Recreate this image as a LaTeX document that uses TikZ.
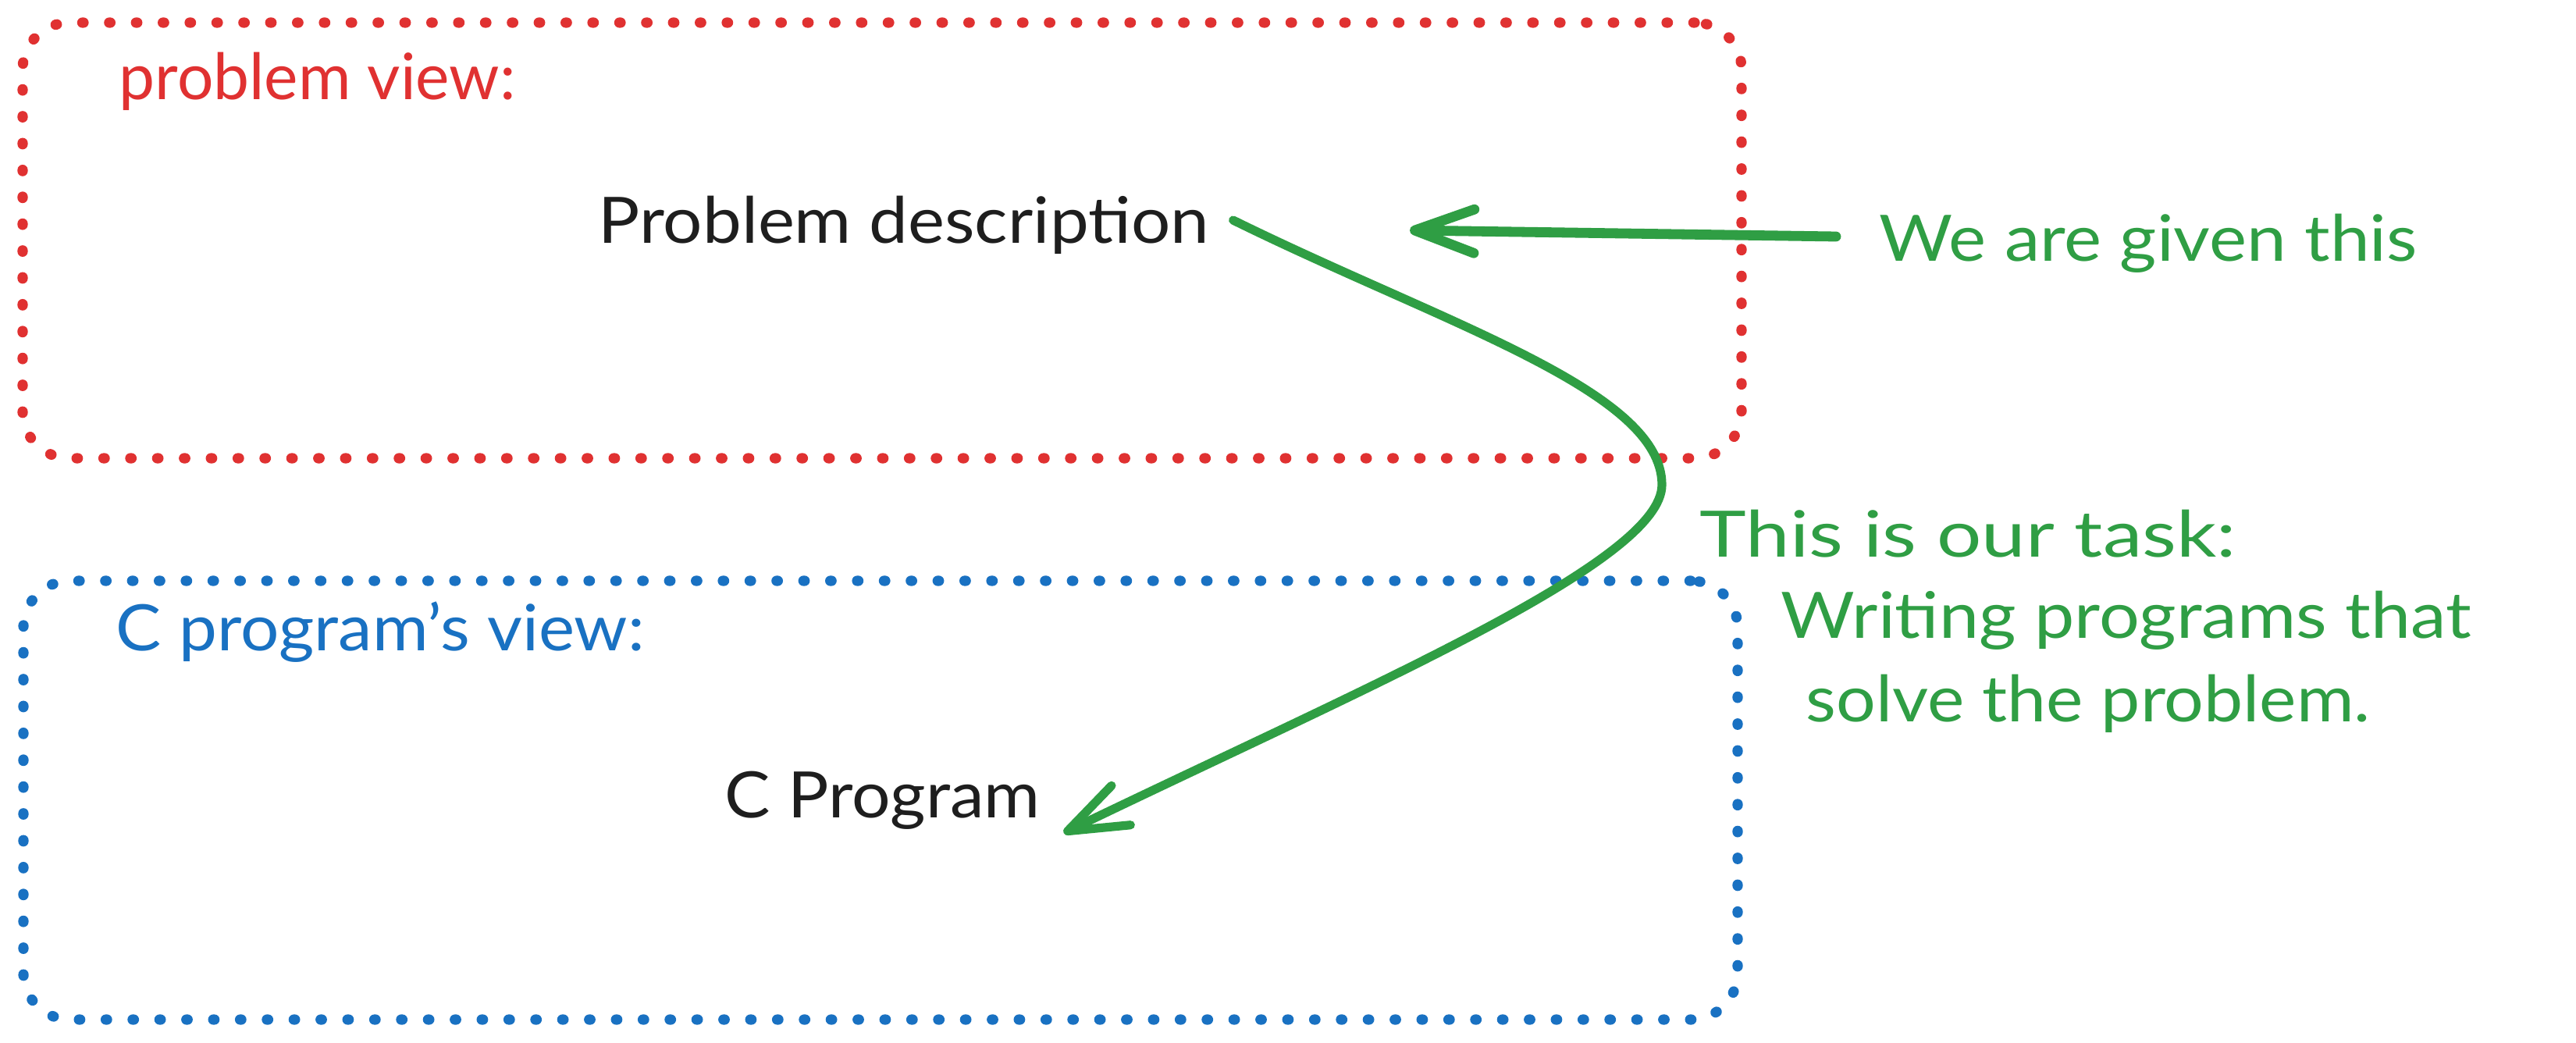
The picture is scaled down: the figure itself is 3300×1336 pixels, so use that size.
\documentclass[tikz,border=0pt]{standalone}
\usepackage{fontspec}
\setmainfont{Lato}
\usetikzlibrary{arrows.meta,calc}
\definecolor{exred}{HTML}{E03131}
\definecolor{exblue}{HTML}{1971C2}
\definecolor{exgreen}{HTML}{2F9E44}
\definecolor{exink}{HTML}{1E1E1E}
% same font size everywhere, stretched horizontally to the reference widths
\newcommand{\fitw}[2]{\resizebox{#1}{\height}{#2}}
\tikzset{
  dotbox/.style={draw, line width=3.3pt, dash pattern=on 0.4pt off 8.2pt, line cap=round, rounded corners=15pt, inner sep=0pt, fill=none},
  lbl/.style={inner sep=0pt, anchor=base west, font=\fontsize{20.5pt}{24pt}\selectfont},
  garrow/.style={draw=exgreen, line cap=round, line join=round, -{Straight Barb[length=19pt, width=14pt, line cap=round, line join=round]}}
}
\begin{document}
\begin{tikzpicture}[x=0.25pt, y=-0.25pt]
\useasboundingbox[fill=white] (0,0) rectangle (3300,1336);
% frames
\node[dotbox, draw=exred, minimum width=550.5pt, minimum height=139.5pt] (rbox) at (1130,308) {};
\node[dotbox, draw=exblue, minimum width=549pt, minimum height=140.5pt] (bbox) at (1128,1025) {};
% labels
\node[lbl, text=exred] (pv) at (152,128) {\fitw{127pt}{problem view:}};
\node[lbl, text=exink] (pd) at (766,312) {\fitw{195.5pt}{Problem description}};
\node[lbl, text=exblue] (cv) at (148,834) {\fitw{169.25pt}{C program's view:}};
\node[lbl, text=exink] (cp) at (928,1047) {\fitw{101pt}{C Program}};
\node[lbl, text=exgreen] (given) at (2407,335) {\fitw{172.25pt}{We are given this}};
\node[lbl, text=exgreen] (task1) at (2177,714) {\fitw{171.75pt}{This is our task:}};
\node[lbl, text=exgreen] (task2) at (2281,817) {\fitw{221pt}{Writing programs that}};
\node[lbl, text=exgreen] (task3) at (2313,924) {\fitw{180.75pt}{solve the problem.}};
% connectors
\coordinate (gtip) at (1806,295);
\draw[garrow, line width=3.2pt] ([shift={(-55,-32)}]given.base west) -- (gtip);
\draw[garrow, line width=2.8pt] ([shift={(30,-30)}]pd.base east)
  .. controls (1850,415) and (2129,500) .. (2129,621)
  .. controls (2129,720) and (1750,880) .. ([shift={(29,20)}]cp.base east);
\end{tikzpicture}
\end{document}
